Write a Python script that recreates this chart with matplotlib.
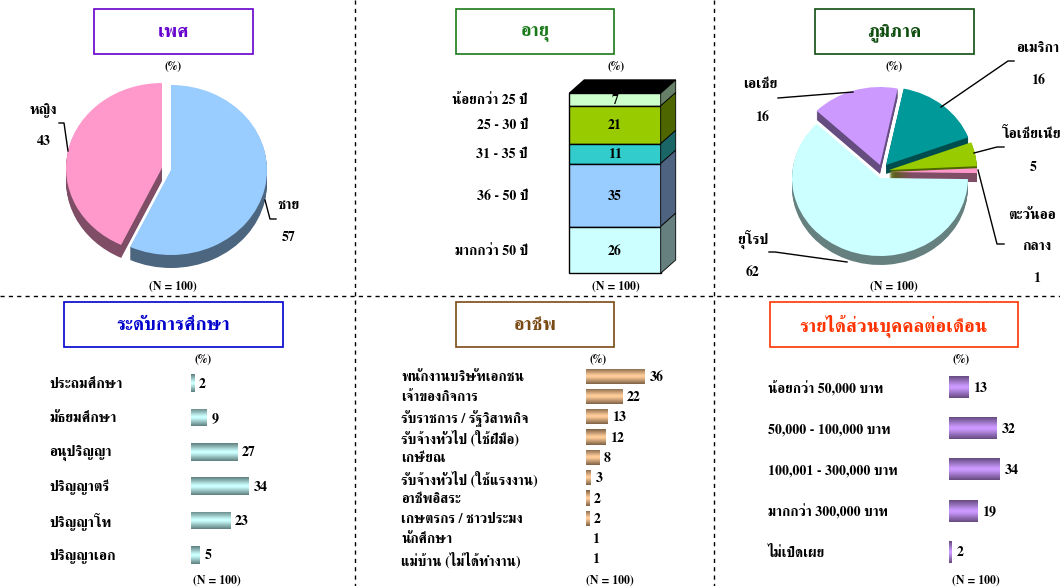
import matplotlib
matplotlib.use('Agg')
import matplotlib.pyplot as plt
import numpy as np
from matplotlib.colors import LinearSegmentedColormap
from matplotlib.patches import Rectangle
from matplotlib.transforms import blended_transform_factory

plt.rcParams['font.family'] = ['FreeSerif', 'Liberation Serif', 'DejaVu Sans']
plt.rcParams['font.weight'] = 'bold'

W, H = 1060, 586
FS_THAI = 10.4
FS_NUM = 10
FS_SMALL = 8.5

sexo_labels = ['ชาย', 'หญิง']
sexo_values = [57, 43]

edad_labels = ['น้อยกว่า 25 ปี', '25 - 30 ปี', '31 - 35 ปี', '36 - 50 ปี', 'มากกว่า 50 ปี']
edad_values = [7, 21, 11, 35, 26]

region_labels = ['เอเชีย', 'อเมริกา', 'โอเชียเนีย', 'ตะวันออ', 'กลาง', 'ยุโรป']
region_values = [16, 16, 5, 1, 62]

edu_labels = ['ประถมศึกษา', 'มัธยมศึกษา', 'อนุปริญญา', 'ปริญญาตรี', 'ปริญญาโท', 'ปริญญาเอก']
edu_values = [2, 9, 27, 34, 23, 5]

job_labels = ['พนักงานบริษัทเอกชน', 'เจ้าของกิจการ', 'รับราชการ / รัฐวิสาหกิจ',
              'รับจ้างทั่วไป (ใช้ฝีมือ)', 'เกษียณ', 'รับจ้างทั่วไป (ใช้แรงงาน)',
              'อาชีพอิสระ', 'เกษตรกร / ชาวประมง', 'นักศึกษา', 'แม่บ้าน (ไม่ได้ทำงาน)']
job_values = [36, 22, 13, 12, 8, 3, 2, 2, 1, 1]

income_labels = ['น้อยกว่า 50,000 บาท', '50,000 - 100,000 บาท', '100,001 - 300,000 บาท',
                 'มากกว่า 300,000 บาท', 'ไม่เปิดเผย']
income_values = [13, 32, 34, 19, 2]


def px_axes(left, top, width, height):
    return fig.add_axes([left / W, 1 - (top + height) / H, width / W, height / H])


def pie3d(values, start, colors, shades, center, rx, ry, shifts, depth):
    ax = px_axes(center[0] - 2 * rx, center[1] - 2 * ry, 4 * rx, 4 * ry)
    # side walls first, top faces after
    for k in list(range(depth, 0, -1)) + [0]:
        wedges, _ = ax.pie(values, startangle=start, counterclock=False,
                           colors=shades if k else colors, wedgeprops={'linewidth': 0})
        for w, (dx, dy) in zip(wedges, shifts):
            w.set_center((dx / rx, (-dy - k) / ry))
    ax.set_aspect('auto')
    ax.set_xlim(-2, 2)
    ax.set_ylim(-2, 2)
    ax.axis('off')


def gradient_bars(ax, values, dark, light, height, min_show=0):
    cmap = LinearSegmentedColormap.from_list('g', [(0, dark), (0.45, light), (0.55, light), (1, dark)])
    ramp = np.linspace(0, 1, 64).reshape(-1, 1)
    ypos = np.arange(len(values))
    bars = ax.barh(ypos, values, height=height, color=light)
    for b, v in zip(bars, values):
        # the 1% bars do not show in the original
        if v <= min_show:
            b.set_visible(False)
            continue
        im = ax.imshow(ramp, cmap=cmap, aspect='auto',
                       extent=[0, v, b.get_y() + height, b.get_y()], zorder=3)
        im.set_clip_path(b)
    ax.set_xlim(0, max(values))
    ax.set_ylim(len(values) - 0.5, -0.5)
    ax.axis('off')


def bar_panel(labels, values, left, top, width, height, label_x, dark, light, bar_h,
              min_show=0, label_size=FS_THAI):
    ax = px_axes(left, top, width, height)
    gradient_bars(ax, values, dark, light, bar_h, min_show)
    trans = blended_transform_factory(over.transData, ax.transData)
    for i, (lab, v) in enumerate(zip(labels, values)):
        over.annotate(lab, (label_x, i), xycoords=trans, xytext=(0, -1), textcoords='offset points',
                      va='center', fontsize=label_size)
        ax.annotate(str(v), (v, i), xytext=(3.5, -0.8), textcoords='offset points',
                    va='center', ha='left', fontsize=FS_NUM, annotation_clip=False)


def label(x, y, txt, size=FS_THAI):
    over.text(x, y + 1.5, txt, ha='center', va='center', fontsize=size)


fig = plt.figure(figsize=(W / 100, H / 100), dpi=100)
fig.patch.set_facecolor('white')

over = fig.add_axes([0, 0, 1, 1], zorder=5)
over.set_xlim(0, W)
over.set_ylim(H, 0)
over.axis('off')

# dashed dividers
for x in [355, 714]:
    over.plot([x, x], [0, H], color='black', lw=1, ls=(0, (3, 3)))
over.plot([0, W], [296, 296], color='black', lw=1, ls=(0, (3, 3)))

# title boxes
boxes = [('เพศ', 94, 9, 253, 54, '#6600cc'), ('อายุ', 456, 9, 614, 54, '#1a7a1a'),
         ('ภูมิภาค', 815, 9, 974, 54, '#0f4d0f'), ('ระดับการศึกษา', 64, 302, 283, 347, '#0000cc'),
         ('อาชีพ', 456, 302, 614, 347, '#7a4a14'),
         ('รายได้ส่วนบุคคลต่อเดือน', 770, 302, 1018, 347, '#ff3300')]
for txt, x0, y0, x1, y1, c in boxes:
    over.add_patch(Rectangle((x0, y0), x1 - x0, y1 - y0, fill=False, ec=c, lw=1.2))
    over.text((x0 + x1) / 2, (y0 + y1) / 2 + 1, txt, color=c, ha='center', va='center', fontsize=13.5)

for x, y in [(173, 65), (616, 65), (894, 65), (203, 358), (598, 358), (961, 358)]:
    label(x, y, '(%)', FS_SMALL)
for x, y in [(173, 285), (616, 285), (894, 285), (217, 579), (610, 579), (976, 579)]:
    label(x, y, '(N = 100)', FS_SMALL)

# sex pie
pie3d(sexo_values, 90, ['#99ccff', '#ff99cc'], ['#4d6680', '#804d66'], (166, 169), 96, 85,
      [(5, 1), (-4, -1)], 13)
label(289, 204, sexo_labels[0])
label(289, 236, str(sexo_values[0]), FS_NUM)
label(43, 109, sexo_labels[1])
label(44, 140, str(sexo_values[1]), FS_NUM)
over.plot([265, 270, 276], [200, 219, 219], color='black', lw=1)
over.plot([59, 64, 68], [123, 123, 151], color='black', lw=1)

# region pie
pie3d(region_values, 136, ['#cc99ff', '#009999', '#99cc00', '#ff99cc', '#ccffff'],
      ['#664d80', '#004d4d', '#4d6600', '#804d66', '#668080'], (885, 165), 88, 78,
      [(-5, 0), (1, 0), (4, 5), (4, 7), (-5, 13)], 9)
label(1038, 47, region_labels[1])
label(1038, 79, str(region_values[1]), FS_NUM)
label(1032, 132, region_labels[2])
label(1033, 166, str(region_values[2]), FS_NUM)
label(1032, 214, region_labels[3])
label(1037, 245, region_labels[4])
label(1037, 277, str(region_values[3]), FS_NUM)
label(760, 83, region_labels[0])
label(762, 116, str(region_values[0]), FS_NUM)
label(753, 238, region_labels[5])
label(753, 271, str(region_values[4]), FS_NUM)
over.plot([941, 1008, 1014], [107, 61, 61], color='black', lw=1)
over.plot([974, 997, 1004], [153, 147, 147], color='black', lw=1)
over.plot([978, 997, 1004], [170, 244, 244], color='black', lw=1)
over.plot([778, 853], [98, 92], color='black', lw=1)
over.plot([769, 775, 847], [252, 252, 262], color='black', lw=1)

# age stacked column
col_front = ['#ccffcc', '#99cc00', '#33cccc', '#99ccff', '#ccffff']
col_side = ['#667f66', '#4d6600', '#1a6666', '#4d6380', '#667f7f']
ax_age = px_axes(569.3, 93.3, 91.4, 180)
ax_age.set_xlim(0, 1)
ax_age.set_ylim(100, 0)
ax_age.axis('off')
dx = 15 / 91.4
dy = 13.3 / 1.8
tops = np.concatenate([[0], np.cumsum(edad_values)[:-1]])
ax_age.bar(0.5, edad_values, width=1, bottom=tops, color=col_front, edgecolor='black', lw=1, clip_on=False)
ax_age.fill([0, dx, 1 + dx, 1], [0, -dy, -dy, 0], color='black', clip_on=False)
trans_age = blended_transform_factory(over.transData, ax_age.transData)
for t, v, c, lab in zip(tops, edad_values, col_side, edad_labels):
    ax_age.fill([1, 1 + dx, 1 + dx, 1], [t, t - dy, t + v - dy, t + v], facecolor=c,
                edgecolor='black', lw=0.6, clip_on=False)
    ax_age.annotate(str(v), (0.5, t + v / 2), xytext=(0, -0.8), textcoords='offset points',
                    ha='center', va='center', fontsize=FS_NUM)
    over.annotate(lab, (528, t + v / 2), xycoords=trans_age, xytext=(0, -0.8), textcoords='offset points',
                  ha='right', va='center', fontsize=10)

# bar panels
bar_panel(edu_labels, edu_values, 191, 366, 58, 206, 49, '#5f7f7f', '#ccffff', 0.52)
bar_panel(job_labels, job_values, 586, 366, 59, 203, 401, '#7f6247', '#ffcc99', 0.75, min_show=1, label_size=10)
bar_panel(income_labels, income_values, 949, 366.4, 51, 206, 768, '#664c80', '#cc99ff', 0.53, label_size=10)

fig.savefig('out.png', dpi=100)
